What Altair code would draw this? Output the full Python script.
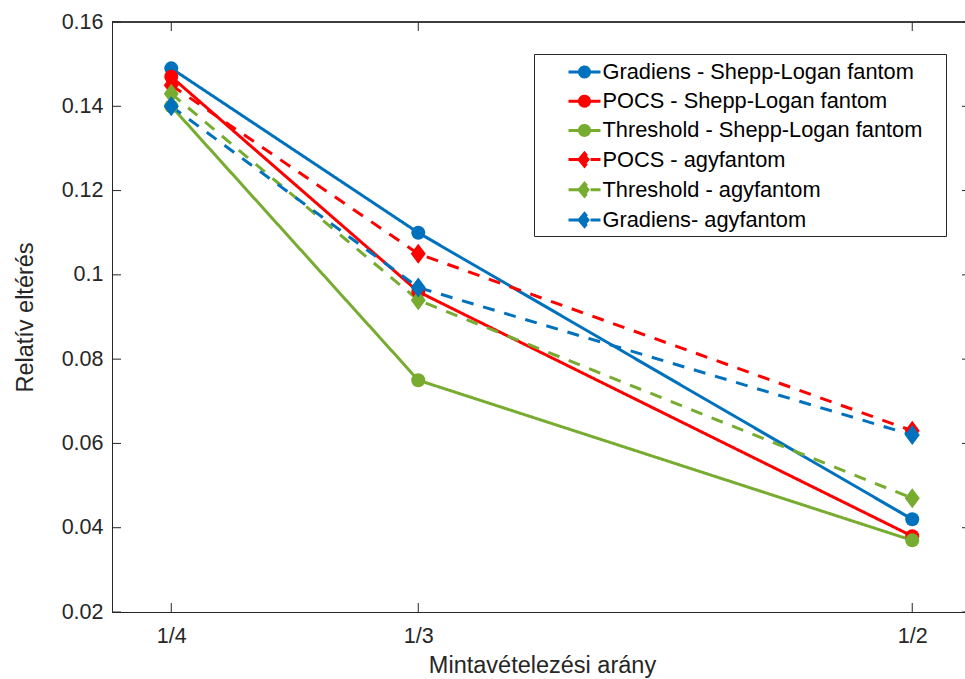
import altair as alt
import pandas as pd

# ---------------- data ----------------
x_vals = [1 / 4, 1 / 3, 1 / 2]
x_labels = ["1/4", "1/3", "1/2"]
y_ticks = [0.02, 0.04, 0.06, 0.08, 0.1, 0.12, 0.14, 0.16]

series_names = [
    "Gradiens - Shepp-Logan fantom",
    "POCS - Shepp-Logan fantom",
    "Threshold - Shepp-Logan fantom",
    "POCS - agyfantom",
    "Threshold - agyfantom",
    "Gradiens- agyfantom",
]
grad_sl = [0.149, 0.110, 0.042]
pocs_sl = [0.147, 0.096, 0.038]
thr_sl = [0.140, 0.075, 0.037]
pocs_agy = [0.145, 0.105, 0.063]
thr_agy = [0.143, 0.094, 0.047]
grad_agy = [0.140, 0.097, 0.062]
series_values = [grad_sl, pocs_sl, thr_sl, pocs_agy, thr_agy, grad_agy]
series_markers = ["circle", "circle", "circle", "diamond", "diamond", "diamond"]

# ---------------- styles ----------------
BLUE, RED, GREEN = "#0072BD", "#FF0000", "#77AC30"
series_colors = [BLUE, RED, GREEN, RED, GREEN, BLUE]
SOLID, DASHED = [1, 0], [12, 10]
series_dashes = [SOLID if m == "circle" else DASHED for m in series_markers]

# legend symbols: line segment with a marker in its middle
LEG_CIRCLE = ("M-1.185,0H1.185M-0.37,0A0.37,0.37,0,1,1,0.37,0"
              "A0.37,0.37,0,1,1,-0.37,0Z")
LEG_DIAMOND = "M-1.185,0H1.185M-0.4,0L0,-0.48L0.4,0L0,0.48Z"
legend_shapes = [LEG_CIRCLE if m == "circle" else LEG_DIAMOND for m in series_markers]
DIAMOND = "M-0.75,0L0,-1L0.75,0L0,1Z"

AX = "#262626"
FONT = "Liberation Sans"
W, H = 853, 590

rows = []
for name, vals, mk in zip(series_names, series_values, series_markers):
    for xv, yv in zip(x_vals, vals):
        rows.append({"series": name, "x": xv, "y": yv, "marker": mk})
df = pd.DataFrame(rows)

xscale = alt.Scale(domain=[0.23, 0.5178], nice=False, zero=False)
yscale = alt.Scale(domain=[0.02, 0.16], nice=False, zero=False)

label_expr = "".join(
    f"abs(datum.value - {v}) < 1e-6 ? '{l}' : " for v, l in zip(x_vals, x_labels)
) + "''"

x_enc = alt.X(
    "x:Q", scale=xscale,
    axis=alt.Axis(
        values=x_vals, labelExpr=label_expr, ticks=False, grid=False,
        domainColor=AX, domainWidth=1, labelFontSize=21.5, labelColor=AX,
        labelPadding=13, labelFont=FONT,
        title="Mintavételezési arány", titleFontSize=23.5, titleFontWeight="normal",
        titleColor=AX, titleFont=FONT, titleBaseline="alphabetic", titleY=60, titleX=430,
    ),
)
y_enc = alt.Y(
    "y:Q", scale=yscale,
    axis=alt.Axis(
        values=y_ticks, format="~g", ticks=False, grid=False,
        domainColor=AX, domainWidth=1, labelFontSize=21.5, labelColor=AX,
        labelPadding=9, labelFont=FONT,
        title="Relatív eltérés", titleFontSize=23.5, titleFontWeight="normal",
        titleColor=AX, titleFont=FONT, titleBaseline="alphabetic", titleX=-80,
        titleAngle=270,
    ),
)

# an invisible tiny title on the right gives the frame MATLAB's right margin
legend = alt.Legend(
    title=".", titleOrient="right", titleOpacity=0, titleFontSize=10,
    titlePadding=17.5,
    orient="none", legendX=422, legendY=32, padding=3,
    strokeColor=AX, fillColor="white", symbolSize=729, symbolStrokeWidth=3,
    symbolOffset=32.5, labelOffset=3, labelFontSize=21.8, labelColor="black",
    labelFont=FONT, rowPadding=2.2, labelLimit=600,
)

stroke_scale = alt.Scale(domain=series_names, range=series_colors)
fill_scale = alt.Scale(domain=series_names, range=series_colors)
dash_scale = alt.Scale(domain=series_names, range=series_dashes)
shape_scale = alt.Scale(domain=series_names, range=legend_shapes)

base = alt.Chart(df)

lines = base.mark_line(strokeWidth=3).encode(
    x=x_enc, y=y_enc,
    stroke=alt.Stroke("series:N", scale=stroke_scale, legend=legend),
    strokeDash=alt.StrokeDash("series:N", scale=dash_scale, legend=legend),
    order="x:Q",
)

circles = base.transform_filter(alt.datum.marker == "circle").mark_point(
    filled=True, shape="circle", size=196, opacity=1, strokeWidth=0
).encode(
    x=alt.X("x:Q", scale=xscale), y=alt.Y("y:Q", scale=yscale),
    fill=alt.Fill("series:N", scale=fill_scale, legend=legend),
)

diamonds = base.transform_filter(alt.datum.marker == "diamond").mark_point(
    filled=True, shape=DIAMOND, size=400, opacity=1, strokeWidth=0
).encode(
    x=alt.X("x:Q", scale=xscale), y=alt.Y("y:Q", scale=yscale),
    fill=alt.Fill("series:N", scale=fill_scale, legend=legend),
)

# legend-only layer (no visible rows)
legend_layer = base.transform_filter("datum.y < 0").mark_point(
    filled=True, opacity=1, strokeWidth=3
).encode(
    x=alt.X("x:Q", scale=xscale), y=alt.Y("y:Q", scale=yscale),
    fill=alt.Fill("series:N", scale=fill_scale, legend=legend),
    stroke=alt.Stroke("series:N", scale=stroke_scale, legend=legend),
    shape=alt.Shape("series:N", scale=shape_scale, legend=legend),
    strokeDash=alt.StrokeDash("series:N", scale=dash_scale, legend=legend),
)

# frame and inward ticks
ytick_df = pd.DataFrame({"v": y_ticks})
xtick_df = pd.DataFrame({"v": x_vals})
tick_style = dict(color=AX, strokeWidth=1)

left_ticks = alt.Chart(ytick_df).mark_rule(**tick_style).encode(
    y=alt.Y("v:Q", scale=yscale), x=alt.value(0), x2=alt.value(9))
right_ticks = alt.Chart(ytick_df).mark_rule(**tick_style).encode(
    y=alt.Y("v:Q", scale=yscale), x=alt.value(W - 3), x2=alt.value(W))
bottom_ticks = alt.Chart(xtick_df).mark_rule(**tick_style).encode(
    x=alt.X("v:Q", scale=xscale), y=alt.value(H), y2=alt.value(H - 9))
top_ticks = alt.Chart(xtick_df).mark_rule(**tick_style).encode(
    x=alt.X("v:Q", scale=xscale), y=alt.value(0), y2=alt.value(9))
top_border = alt.Chart(xtick_df).mark_rule(**tick_style).encode(
    x=alt.value(0), x2=alt.value(W), y=alt.value(0))

chart = alt.layer(
    lines, circles, diamonds, legend_layer,
    left_ticks, right_ticks, bottom_ticks, top_ticks, top_border,
).properties(
    width=W, height=H,
    autosize=alt.AutoSizeParams(type="none"),
    padding={"left": 112, "top": 22, "right": 0, "bottom": 67},
    background="white",
).configure_view(stroke=None).configure(font=FONT)

chart.save("out.html", embed_options={"renderer": "svg", "actions": False})
